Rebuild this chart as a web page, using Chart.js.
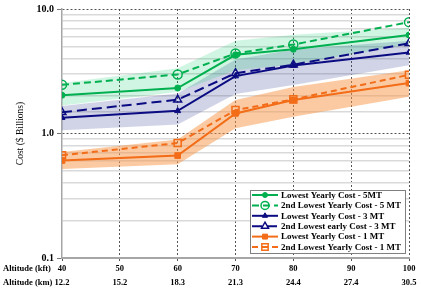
<!DOCTYPE html>
<html>
<head>
<meta charset="utf-8">
<script src="https://cdn.jsdelivr.net/npm/chart.js@4.4.1/dist/chart.umd.min.js"></script>
<style>
  body { margin: 0; background: #fff; }
</style>
</head>
<body>
<canvas id="costChart" width="421" height="289"></canvas>
<script>
const altitudeKft = [40, 60, 70, 80, 100];
const kftTicks = [40, 50, 60, 70, 80, 90, 100];
const kmTicks = ["12.2", "15.2", "18.3", "21.3", "24.4", "27.4", "30.5"];
const costTicks = [0.1, 1, 10];

// lines
const lowest5 = [2.03, 2.32, 4.29, 4.75, 6.18];
const second5 = [2.46, 2.98, 4.40, 5.18, 7.84];
const lowest3 = [1.34, 1.52, 2.89, 3.51, 4.48];
const second3 = [1.48, 1.87, 3.05, 3.57, 5.30];
const lowest1 = [0.607, 0.665, 1.45, 1.86, 2.54];
const second1 = [0.669, 0.838, 1.54, 1.88, 2.96];

// shaded ranges
const band5High = [2.55, 3.34, 5.57, 6.20, 7.07];
const band5Low = [1.68, 2.15, 3.22, 3.59, 5.18];
const band3High = [1.66, 2.10, 3.93, 4.72, 5.57];
const band3Low = [1.06, 1.18, 2.08, 2.45, 3.53];
const band1High = [0.71, 0.896, 1.86, 2.36, 3.22];
const band1Low = [0.518, 0.567, 1.10, 1.36, 1.97];

const FONT = '"Liberation Serif", "Times New Roman", serif';
const GREEN = "#00b050";
const NAVY = "#0c0c82";
const ORANGE = "#f36c17";

function pts(values) {
  return altitudeKft.map((x, i) => ({ x: x, y: values[i] }));
}

function line(label, values, color, dash, style, radius, open) {
  return {
    label: label,
    data: pts(values),
    borderColor: color,
    borderWidth: 2,
    borderDash: dash,
    pointStyle: style,
    pointRadius: radius,
    pointBorderWidth: open ? 1.5 : 1,
    pointBorderColor: color,
    pointBackgroundColor: open ? "rgba(255,255,255,0)" : color,
    tension: 0,
    fill: false,
    open: open
  };
}

function band(values, color, fillTarget) {
  return {
    label: "",
    data: pts(values),
    borderWidth: 0,
    pointRadius: 0,
    backgroundColor: color,
    fill: fillTarget,
    tension: 0
  };
}

function isDecade(v) {
  if (v === undefined) return false;
  const l = Math.log10(v);
  return Math.abs(l - Math.round(l)) < 1e-6;
}

function marker(ctx, style, x, y, r) {
  ctx.beginPath();
  if (style === "circle") {
    ctx.arc(x, y, r, 0, Math.PI * 2);
  } else if (style === "triangle") {
    let a = 0;
    ctx.moveTo(x + Math.sin(a) * r, y - Math.cos(a) * r);
    a += Math.PI * 2 / 3;
    ctx.lineTo(x + Math.sin(a) * r, y - Math.cos(a) * r);
    a += Math.PI * 2 / 3;
    ctx.lineTo(x + Math.sin(a) * r, y - Math.cos(a) * r);
  } else {
    const s = r * Math.SQRT1_2;
    ctx.rect(x - s, y - s, 2 * s, 2 * s);
  }
  ctx.closePath();
}

const boxLegend = {
  id: "boxLegend",
  afterDraw(chart) {
    const ctx = chart.ctx;
    const area = chart.chartArea;
    const items = chart.data.datasets.filter(d => d.label);
    const rowH = 10.4;
    const w = 155;
    const h = items.length * rowH + 0.6;
    const x0 = area.right - 159;
    const y0 = area.bottom - 68;
    ctx.save();
    ctx.fillStyle = "#fff";
    ctx.fillRect(x0, y0, w, h);
    ctx.strokeStyle = "#808080";
    ctx.lineWidth = 1;
    ctx.strokeRect(x0 + 0.5, y0 + 0.5, w, h);
    items.forEach((d, i) => {
      const cy = y0 + 5 + i * rowH;
      ctx.strokeStyle = d.borderColor;
      ctx.lineWidth = 2;
      ctx.setLineDash(d.borderDash || []);
      ctx.beginPath();
      ctx.moveTo(x0 + 2, cy);
      ctx.lineTo(x0 + 28, cy);
      ctx.stroke();
      ctx.setLineDash([]);
      ctx.lineWidth = d.pointBorderWidth;
      ctx.fillStyle = d.pointBackgroundColor;
      marker(ctx, d.pointStyle, x0 + 15, cy, d.pointRadius - 0.5);
      ctx.fill();
      ctx.stroke();
      ctx.fillStyle = "#000";
      ctx.font = "bold 9px " + FONT;
      ctx.textAlign = "left";
      ctx.textBaseline = "middle";
      ctx.fillText(d.label, x0 + 31, cy + 0.5);
    });

    // row titles for the two x tick label lines
    const xs = chart.scales.x;
    const lh = 9 * 1.55;
    const top = xs.top + 3 + 1;
    ctx.font = "bold 8.5px " + FONT;
    ctx.fillText("Altitude (kft)", 3, top + lh / 2);
    ctx.fillText("Altitude (km)", 3, top + lh * 1.5);
    ctx.restore();
  }
};

new Chart("costChart", {
  type: "line",
  data: {
    datasets: [
      line("Lowest Yearly Cost - 5MT", lowest5, GREEN, [], "circle", 3, false),
      line("2nd Lowest Yearly Cost - 5 MT", second5, GREEN, [7, 4], "circle", 4.5, true),
      line("Lowest Yearly Cost - 3 MT", lowest3, NAVY, [], "triangle", 3.5, false),
      line("2nd Lowest early Cost - 3 MT", second3, NAVY, [10, 5], "triangle", 4.5, true),
      line("Lowest Yearly Cost - 1 MT", lowest1, ORANGE, [], "rect", 4, false),
      line("2nd Lowest Yearly Cost - 1 MT", second1, ORANGE, [6, 4], "rect", 5, true),
      band(band5High, "rgba(0,200,100,0.18)", "+1"),
      band(band5Low, "rgba(0,0,0,0)", false),
      band(band3High, "rgba(40,60,140,0.22)", "+1"),
      band(band3Low, "rgba(0,0,0,0)", false),
      band(band1High, "rgba(247,150,70,0.5)", "+1"),
      band(band1Low, "rgba(0,0,0,0)", false)
    ]
  },
  options: {
    responsive: false,
    animation: false,
    devicePixelRatio: 1,
    layout: { padding: { top: 6, right: 12, left: 0, bottom: 0 } },
    plugins: {
      legend: { display: false },
      tooltip: { enabled: false }
    },
    scales: {
      x: {
        type: "linear",
        min: 40,
        max: 100,
        afterFit: s => { s.height = 31; },
        afterBuildTicks: s => { s.ticks = kftTicks.map(v => ({ value: v })); },
        ticks: {
          stepSize: 10,
          padding: 1,
          color: "#000",
          maxRotation: 0,
          autoSkip: false,
          font: { family: FONT, size: 8.5, weight: "bold", lineHeight: 1.64 },
          callback: v => [String(v), kmTicks[kftTicks.indexOf(v)]]
        },
        grid: {
          color: c => (c.index === 0 ? "rgba(0,0,0,0)" : "#555"),
          lineWidth: 1,
          tickLength: 3,
          tickColor: "#555"
        },
        border: { color: "#a6a6a6", width: 2, dash: [2, 2] }
      },
      y: {
        type: "logarithmic",
        min: 0.1,
        max: 10,
        afterFit: s => { s.width = 62; },
        ticks: {
          autoSkip: false,
          padding: 3,
          color: "#000",
          font: { family: FONT, size: 10, weight: "bold" },
          callback: v => (costTicks.some(t => Math.abs(t - v) < 1e-9) ? Number(v).toFixed(1) : "")
        },
        title: {
          display: true,
          text: "Cost ($ Billions)",
          color: "#000",
          padding: { top: 15, bottom: 0 },
          font: { family: FONT, size: 9.5 }
        },
        grid: {
          color: c => {
            if (!c.tick || c.index === 0) return "rgba(0,0,0,0)";
            return isDecade(c.tick.value) ? "#555" : "#dadada";
          },
          lineWidth: c => (c.tick && isDecade(c.tick.value) ? 1 : 1.5),
          tickLength: 5,
          tickColor: c => (c.tick && isDecade(c.tick.value) ? "#777" : "rgba(0,0,0,0)")
        },
        border: {
          color: "#a6a6a6",
          width: 1.5,
          dash: c => (c.tick && isDecade(c.tick.value) ? [2, 2] : [])
        }
      }
    }
  },
  plugins: [boxLegend]
});
</script>
</body>
</html>
